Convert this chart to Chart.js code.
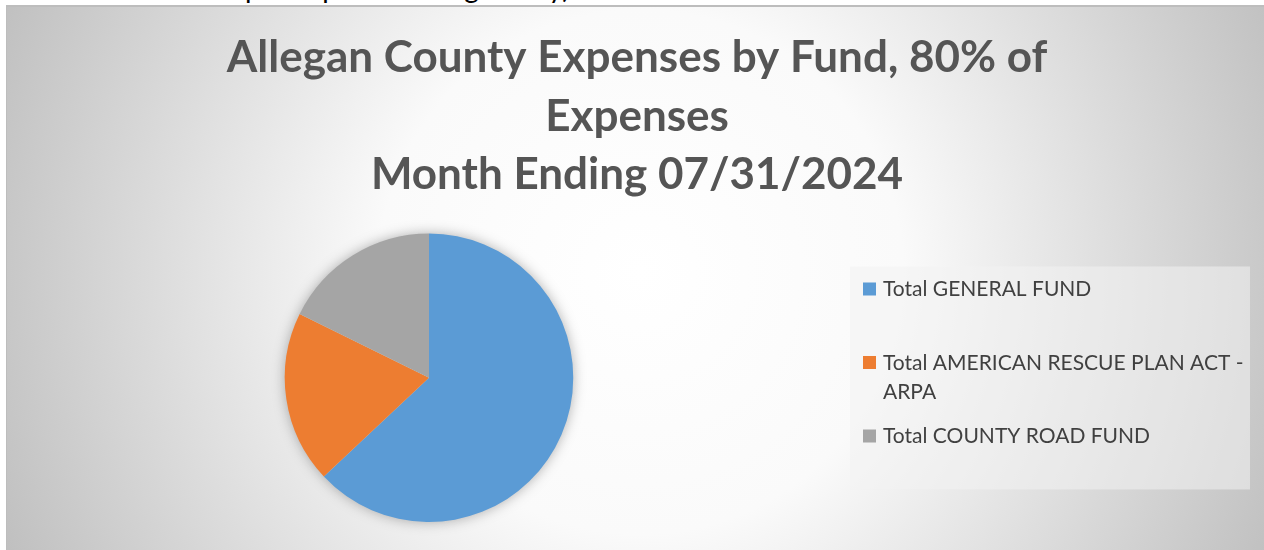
<!DOCTYPE html>
<html lang="en">
<head>
  <meta charset="UTF-8" />
  <title>Allegan County Expenses by Fund</title>
  <script src="https://cdn.jsdelivr.net/npm/chart.js"></script>
  <style>
    html, body { margin: 0; padding: 0; background: #fff; overflow: hidden; }
    body { width: 1264px; height: 550px; position: relative; font-family: Lato, sans-serif; }
    .note {
      position: absolute; left: 95px; top: -30px;
      font-size: 28px; color: #000; white-space: nowrap;
    }
    .frame {
      position: absolute; left: 6px; top: 5px; width: 1270px; height: 560px;
      border-top: 2px solid #bdbdbd; border-left: 1px solid #bdbdbd;
      background: radial-gradient(circle 690px at 634px 265px, #ffffff 0%, #fafafa 38%, #c0c0c0 100%);
    }
    #pie { position: absolute; left: 0; top: 0; }
  </style>
</head>
<body>
  <div class="note">balance sample as per the budget only)</div>
  <div class="frame"></div>
  <canvas id="pie" width="1264" height="550"></canvas>

  <script>
    // data
    const funds = ['Total GENERAL FUND', 'Total AMERICAN RESCUE PLAN ACT - ARPA', 'Total COUNTY ROAD FUND'];
    const shares = [63.0, 19.3, 17.7];
    const fundColors = ['#5B9BD5', '#ED7D31', '#A5A5A5'];
    const titleLines = ['Allegan County Expenses by Fund, 80% of', 'Expenses', 'Month Ending 07/31/2024'];

    const LEGEND_W = 416;

    // soft shadow under the pie
    const pieShadow = {
      id: 'pieShadow',
      beforeDatasetsDraw(chart) {
        const arc = chart.getDatasetMeta(0).data[0];
        if (!arc) return;
        const { x, y, outerRadius } = arc.getProps(['x', 'y', 'outerRadius'], true);
        const ctx = chart.ctx;
        ctx.save();
        ctx.shadowColor = 'rgba(0,0,0,0.35)';
        ctx.shadowBlur = 14;
        ctx.fillStyle = '#d9d9d9';
        ctx.beginPath();
        ctx.arc(x, y, outerRadius - 1, 0, Math.PI * 2);
        ctx.fill();
        ctx.restore();
      }
    };

    function wrapText(ctx, text, maxW) {
      const words = text.split(' ');
      const lines = [];
      let cur = '';
      words.forEach(w => {
        const test = cur ? cur + ' ' + w : w;
        if (cur && ctx.measureText(test).width > maxW) {
          lines.push(cur);
          cur = w;
        } else {
          cur = test;
        }
      });
      if (cur) lines.push(cur);
      return lines;
    }

    function drawLegend(chart, box) {
      const ctx = chart.ctx;
      ctx.save();
      ctx.fillStyle = 'rgba(242,242,242,0.55)';
      ctx.fillRect(box.left + 2, box.top + 33, 400, 223);
      ctx.font = 'normal 21px Lato';
      ctx.textBaseline = 'alphabetic';
      chart.data.labels.forEach((label, i) => {
        const y = box.top + 63 + i * 73.5;
        ctx.fillStyle = chart.data.datasets[0].backgroundColor[i];
        ctx.fillRect(box.left + 15, y - 14, 13, 13);
        ctx.fillStyle = '#404040';
        wrapText(ctx, label, 366).forEach((ln, j) => {
          ctx.fillText(ln, box.left + 35, y + j * 29);
        });
      });
      ctx.restore();
    }

    // legend as a layout box on the right, so the pie shifts left
    const sideLegend = {
      id: 'sideLegend',
      beforeInit(chart) {
        const box = {
          position: 'right', weight: 0, fullSize: false, options: {},
          left: 0, top: 0, right: 0, bottom: 0, width: 0, height: 0,
          isHorizontal() { return false; },
          update(maxWidth, maxHeight) { this.width = LEGEND_W; this.height = maxHeight; },
          draw() { drawLegend(chart, this); }
        };
        Chart.layouts.addBox(chart, box);
      }
    };

    new Chart(document.getElementById('pie'), {
      type: 'pie',
      data: {
        labels: funds,
        datasets: [{
          data: shares,
          backgroundColor: fundColors,
          borderWidth: 0
        }]
      },
      options: {
        responsive: false,
        animation: false,
        events: [],
        layout: { padding: { left: 10, right: 0, top: 5, bottom: 28 } },
        plugins: {
          legend: { display: false },
          tooltip: { enabled: false },
          title: {
            display: true,
            text: titleLines,
            color: '#555555',
            font: { family: 'Lato', size: 44, weight: 'bold', lineHeight: 1.3295 },
            padding: { top: 24, bottom: 29 }
          }
        }
      },
      plugins: [pieShadow, sideLegend]
    });
  </script>
</body>
</html>
